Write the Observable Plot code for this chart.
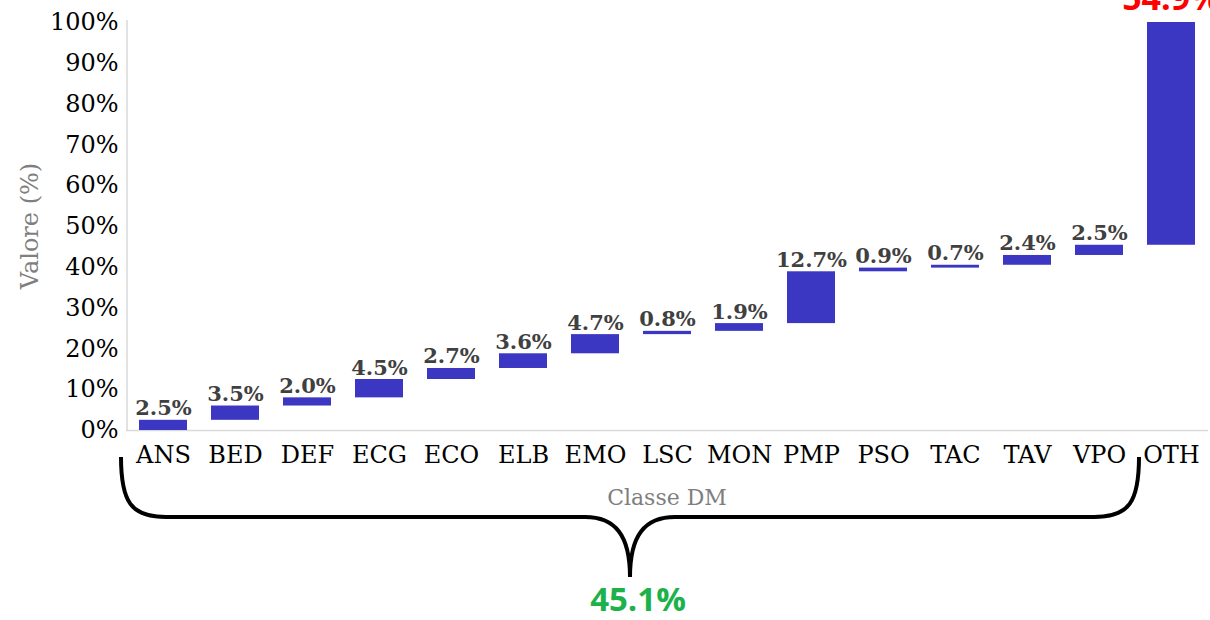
<!DOCTYPE html>
<html><head><meta charset="utf-8">
<script src="https://cdn.jsdelivr.net/npm/d3@7"></script>
<script src="https://cdn.jsdelivr.net/npm/@observablehq/plot@0.6"></script>
<style>
html,body{margin:0;padding:0;background:#fff;overflow:hidden}
#chart{width:1210px;height:620px}
</style></head><body><div id="chart"></div>
<script>
const categories = ["ANS","BED","DEF","ECG","ECO","ELB","EMO","LSC","MON","PMP","PSO","TAC","TAV","VPO","OTH"];
const values = [2.5,3.5,2.0,4.5,2.7,3.6,4.7,0.8,1.9,12.7,0.9,0.7,2.4,2.5,54.9];
const yTicks = [0,10,20,30,40,50,60,70,80,90,100];
const bracketLabel = "45.1%";
const xLabel = "Classe DM";
const yLabel = "Valore (%)";
const otherCategory = "OTH";

(function () {
const ends = d3.cumsum(values);
const rows = categories.map((c, i) => ({
  cat: c, value: values[i],
  y1: ends[i] - values[i], y2: Math.min(ends[i], 100),
  other: c === otherCategory
}));

const serif = "DejaVu Serif";
const plot = Plot.plot({
  width: 1210, height: 620,
  marginLeft: 126, marginRight: 2, marginTop: 22, marginBottom: 190,
  style: {fontFamily: serif, fontSize: "24px", color: "black", background: "white", overflow: "visible"},
  x: {domain: categories, paddingInner: 0.33, paddingOuter: 0.165, label: null, axis: null},
  y: {domain: [0, 100], label: null, axis: null},
  marks: [
    Plot.axisY({ticks: yTicks, tickSize: 0, tickPadding: 8, tickFormat: d => d + "%", fontSize: 24, color: "black", label: null}),
    Plot.axisX({tickSize: 0, tickPadding: 15, fontSize: 24, color: "black", label: null}),
    Plot.ruleY([0], {stroke: "#d9d9d9", strokeWidth: 1.5}),
    Plot.barY(rows, {x: "cat", y1: "y1", y2: "y2", fill: "#3c37c3"}),
    Plot.text(rows.filter(d => !d.other), {
      x: "cat", y: "y2", text: d => d.value.toFixed(1) + "%",
      lineAnchor: "bottom", dy: -5, fontWeight: "bold", fill: "#404040",
      fontSize: 21, fontFamily: serif
    }),
    Plot.text(rows.filter(d => d.other), {
      x: "cat", y: "y2", text: d => d.value.toFixed(1) + "%",
      lineAnchor: "bottom", dy: -13, fontWeight: "bold", fill: "#ff0000",
      fontSize: 34, fontFamily: "Open Sans"
    })
  ]
});
document.getElementById("chart").appendChild(plot);

const svg = d3.select(plot);
const xs = plot.scale("x"), ys = plot.scale("y");
const bw = xs.bandwidth, step = xs.step;
const x0 = xs.range[0], x1 = xs.range[1];
const yb = ys.apply(0), yt = ys.apply(100);

svg.append("line").attr("x1", x0 + 1).attr("x2", x0 + 1).attr("y1", yt - 2).attr("y2", yb)
  .attr("stroke", "#d9d9d9").attr("stroke-width", 1.5);

svg.append("text").attr("x", (x0 + x1) / 2).attr("y", yb + 75)
  .attr("text-anchor", "middle").attr("fill", "#7f7f7f")
  .attr("font-family", serif).attr("font-size", 22).text(xLabel);
svg.append("text").attr("transform", `translate(${38},${(yt + yb) / 2}) rotate(-90)`)
  .attr("text-anchor", "middle").attr("fill", "#7f7f7f")
  .attr("font-family", serif).attr("font-size", 24).text(yLabel);

const cx = c => xs.apply(c) + bw / 2;
const bl = cx(categories[0]) - step / 2 - 6;
const br = cx(categories[categories.length - 2]) + step / 2 + 4;
const mid = (bl + br) / 2;
const by0 = yb + 27, hy = yb + 87, cy = yb + 147;
const p = `M${bl},${by0} C${bl},${hy - 15} ${bl + 10},${hy} ${bl + 45},${hy}
 L${mid - 45},${hy} C${mid - 15},${hy} ${mid},${hy + 18} ${mid},${cy}
 C${mid},${hy + 18} ${mid + 15},${hy} ${mid + 45},${hy}
 L${br - 45},${hy} C${br - 10},${hy} ${br},${hy - 15} ${br},${by0}`;
svg.append("path").attr("d", p).attr("fill", "none").attr("stroke", "black").attr("stroke-width", 4);

svg.append("text").attr("x", mid + 8).attr("y", cy + 34)
  .attr("text-anchor", "middle").attr("fill", "#1db14b")
  .attr("font-family", "Open Sans").attr("font-weight", "bold").attr("font-size", 33)
  .text(bracketLabel);
})();
</script></body></html>
